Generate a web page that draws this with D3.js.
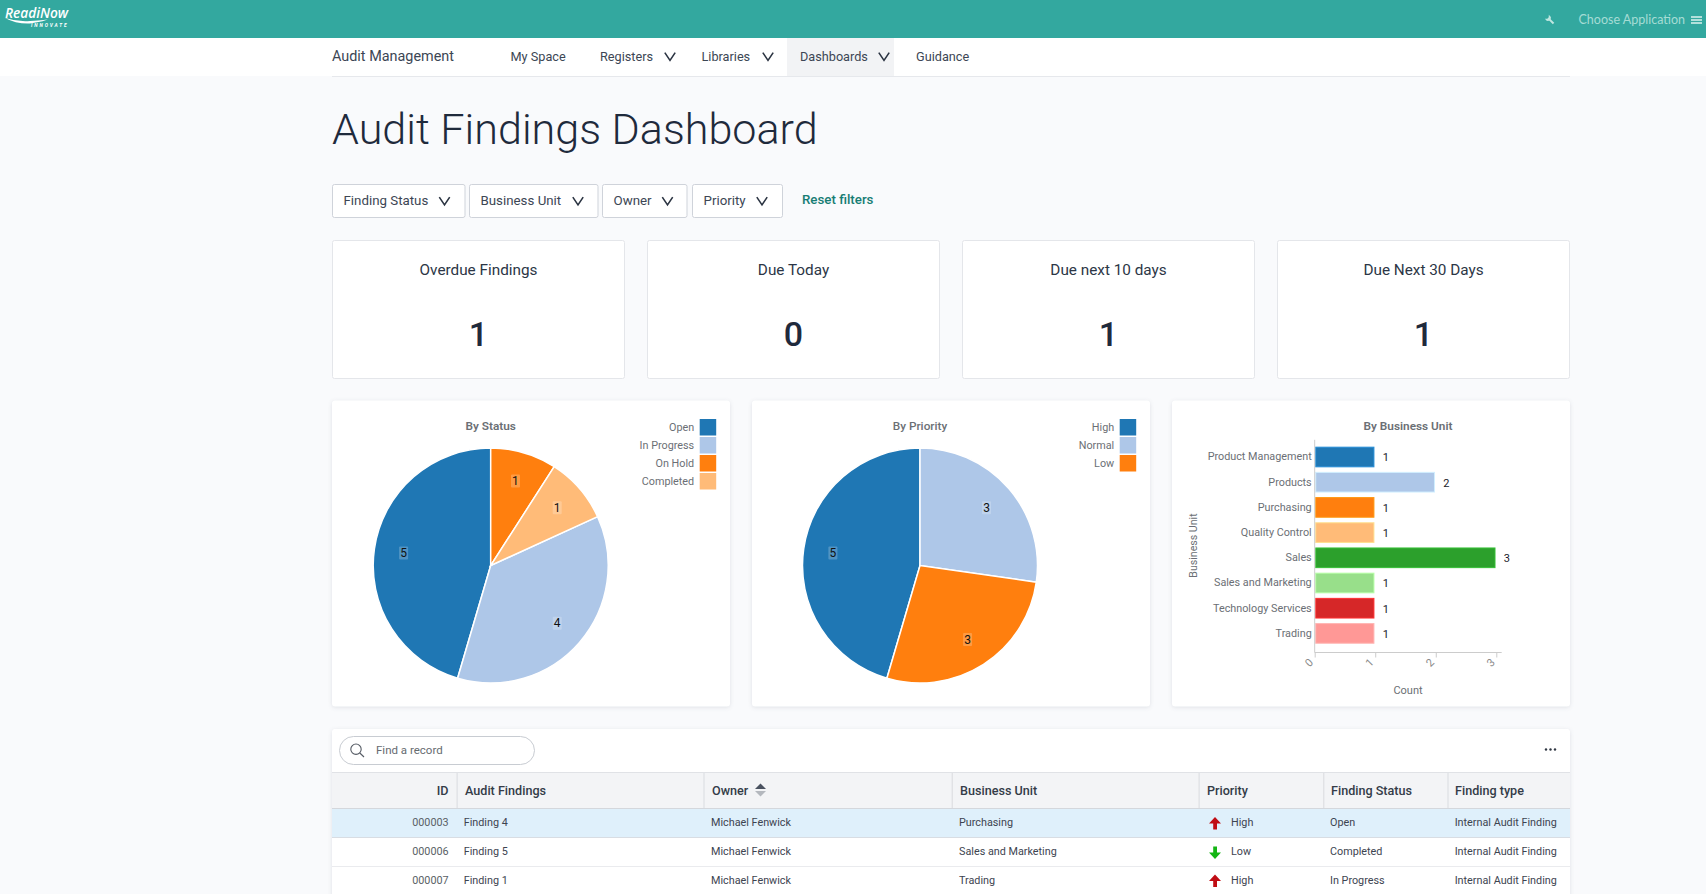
<!DOCTYPE html>
<html><head><meta charset="utf-8">
<script src="https://d3js.org/d3.v7.min.js"></script>
<style>
html,body{margin:0;padding:0;background:#f9fafc;overflow:hidden}
svg{display:block;font-family:Roboto,sans-serif}
</style></head><body><svg id="c" width="1706" height="894"></svg>
<script>
// ---- data ----
const statusCategories = ["Open","In Progress","On Hold","Completed"];
const statusValues = [5,4,1,1];
const priorityCategories = ["High","Normal","Low"];
const priorityValues = [5,3,3];
const unitCategories = ["Product Management","Products","Purchasing","Quality Control","Sales","Sales and Marketing","Technology Services","Trading"];
const unitValues = [1,2,1,1,3,1,1,1];
const countTicks = [0,1,2,3];
const palette = ["#1f77b4","#aec7e8","#ff7f0e","#ffbb78","#2ca02c","#98df8a","#d62728","#ff9896"];
const navItems = ["My Space","Registers","Libraries","Dashboards","Guidance"];
const filterNames = ["Finding Status","Business Unit","Owner","Priority"];
const cardTitles = ["Overdue Findings","Due Today","Due next 10 days","Due Next 30 Days"];
const cardValues = [1,0,1,1];
const tableHeaders = ["ID","Audit Findings","Owner","Business Unit","Priority","Finding Status","Finding type"];
const tableIds = ["000003","000006","000007"];
const tableFindings = ["Finding 4","Finding 5","Finding 1"];
const tableOwners = ["Michael Fenwick","Michael Fenwick","Michael Fenwick"];
const tableUnits = ["Purchasing","Sales and Marketing","Trading"];
const tablePriorities = ["High","Low","High"];
const tableStatuses = ["Open","Completed","In Progress"];
const tableTypes = ["Internal Audit Finding","Internal Audit Finding","Internal Audit Finding"];

// ---- helpers ----
const svg = d3.select("#c");
const ink="#1f2a3c", grey="#6b6f75";
function text(g,x,y,s,o={}){
  return g.append("text").attr("x",x).attr("y",y).attr("dy","0.35em").text(s)
    .attr("font-size",o.size||12).attr("fill",o.fill||ink)
    .attr("font-weight",o.weight||400).attr("text-anchor",o.anchor||"start")
    .attr("font-family",o.family||null).attr("font-style",o.style||null);
}
function chevron(g,cx,cy,w=5.2,h=5,color="#2b3442"){
  g.append("path").attr("d",`M${cx-w},${cy-h/1.3}L${cx},${cy+h/1.3}L${cx+w},${cy-h/1.3}`)
   .attr("fill","none").attr("stroke",color).attr("stroke-width",1.6);
}
function panel(x,y,w,h){
  return svg.append("rect").attr("x",x).attr("y",y).attr("width",w).attr("height",h).attr("rx",3)
    .attr("fill","#fff").style("filter","drop-shadow(0 1px 2px rgba(40,50,70,.12))");
}

// ---- top bar ----
svg.append("rect").attr("width",1706).attr("height",38).attr("fill","#33a89f");
const logo = svg.append("g");
text(logo,5,12.8,"ReadiNow",{size:13.7,fill:"#fff",weight:600,style:"italic",family:"'Open Sans',sans-serif"});
logo.append("path").attr("d","M5,18Q18,22 30,21Q48,20 48,19Q46,21 30,23.5Q16,24 5,18Z").attr("fill","#fff");
text(logo,31,25.7,"INNOVATE",{size:4.8,fill:"#fff",weight:700,style:"italic"}).attr("letter-spacing","1.9");
const wrench = svg.append("g").attr("transform","translate(1550,20) rotate(-45)");
wrench.append("rect").attr("x",-1).attr("y",-2).attr("width",2).attr("height",7).attr("fill","#bfe6e0");
wrench.append("path").attr("d","M-2.8,-4.5L-1,-2.8L1,-2.8L2.8,-4.5L2.8,-1.5L1,0L-1,0L-2.8,-1.5Z").attr("fill","#bfe6e0");
text(svg,1578.5,20,"Choose Application",{size:12.5,fill:"#a5dcd5",family:"Lato,sans-serif"});
svg.append("g").selectAll("rect").data([17,20,23]).join("rect").attr("x",1691).attr("y",d=>d-.9)
  .attr("width",11).attr("height",1.8).attr("fill","#bfe6e0");

// ---- nav ----
svg.append("rect").attr("y",38).attr("width",1706).attr("height",38).attr("fill","#fff");
svg.append("rect").attr("x",332).attr("y",76).attr("width",1238).attr("height",1).attr("fill","#e6e8ec");
svg.append("rect").attr("x",787).attr("y",38).attr("width",107).attr("height",38).attr("fill","#f2f3f5");
text(svg,332,56,"Audit Management",{size:14.4,fill:"#3c4654",weight:400});
const navX=[510.5,600,701.5,800,916], navChevron=[null,670,768,884,null];
navItems.forEach((n,i)=>{
  text(svg,navX[i],56.5,n,{size:12.7,fill:"#3c4654",weight:400});
  if(navChevron[i]) chevron(svg,navChevron[i],56.5);
});

// ---- title and filters ----
text(svg,332,129,"Audit Findings Dashboard",{size:43.1,weight:300,fill:"#1f2a3c"});
const fx=[332,469,602,692], fw=[132.5,128.5,84.5,90], fchev=[444.5,578,667.5,762];
filterNames.forEach((n,i)=>{
  svg.append("rect").attr("x",fx[i]+.5).attr("y",184.5).attr("width",fw[i]).attr("height",33).attr("rx",2)
    .attr("fill","#fff").attr("stroke","#cfd3da");
  text(svg,fx[i]+11.5,200.5,n,{size:13.3,fill:"#3c4654"});
  chevron(svg,fchev[i],201);
});
text(svg,802,199.5,"Reset filters",{size:13.3,fill:"#177d74",weight:500});

// ---- cards ----
const cardX=[332.5,647.5,962.5,1277.5];
cardTitles.forEach((t,i)=>{
  svg.append("rect").attr("x",cardX[i]).attr("y",240.5).attr("width",292).attr("height",138).attr("rx",2)
    .attr("fill","#fff").attr("stroke","#e4e6ea");
  text(svg,cardX[i]+146,270,t,{size:15.3,anchor:"middle",fill:"#2c3646"});
  text(svg,cardX[i]+146,334,cardValues[i],{size:34,anchor:"middle",weight:500,fill:"#1f2a3c"});
});

// ---- pies ----
function pieChart(px,title,cats,vals,cx,bold){
  panel(px,400.5,398,306);
  const g = svg.append("g");
  text(g,cx,425.5,title,{size:11.8,anchor:"middle",fill:grey,weight:bold?600:500});
  const scale = d3.scaleOrdinal(cats,palette);
  const R=117.5;
  const data = cats.map((c,i)=>({c,v:vals[i]}));
  const arcs = d3.pie().value(d=>d.v).sort((a,b)=>d3.ascending(a.v,b.v))(data);
  const arc = d3.arc().innerRadius(0).outerRadius(R);
  const lab = d3.arc().innerRadius(88).outerRadius(88);
  const p = g.append("g").attr("transform",`translate(${cx},565.5)`);
  p.selectAll("path").data(arcs).join("path").attr("d",arc)
    .attr("fill",d=>scale(d.data.c)).attr("stroke","#fff").attr("stroke-width",1.5);
  arcs.forEach(d=>{
    const [x,y]=lab.centroid(d);
    p.append("rect").attr("x",x-4.5).attr("y",y-6.5).attr("width",9).attr("height",13).attr("rx",1)
      .attr("fill","rgba(255,255,255,.22)");
    text(p,x,y,d.data.v,{size:12,anchor:"middle",fill:"#111"});
  });
  const leg = d3.scaleBand().domain(cats).range([418.5,418.5+18*cats.length]);
  const swatchX = px+367.7;
  cats.forEach(c=>{
    g.append("rect").attr("x",swatchX).attr("y",leg(c)+.5).attr("width",16.5).attr("height",16.5).attr("fill",scale(c));
    text(g,swatchX-5.5,leg(c)+9,c,{size:10.8,anchor:"end",fill:grey});
  });
}
pieChart(332,"By Status",statusCategories,statusValues,490.7,true);
pieChart(752,"By Priority",priorityCategories,priorityValues,920,false);

// ---- bar chart ----
panel(1172,400.5,398,306);
const bg = svg.append("g");
text(bg,1408,425.5,"By Business Unit",{size:11.8,anchor:"middle",fill:grey,weight:600});
const x = d3.scaleLinear().domain([0,3]).range([1314.7,1496.3]);
const y = d3.scaleBand().domain(unitCategories).range([444.4,646]).paddingInner(.22).paddingOuter(.11);
const barColor = d3.scaleOrdinal(unitCategories,palette);
bg.selectAll("rect.bar").data(unitCategories).join("rect").attr("class","bar")
  .attr("x",x(0)+1).attr("y",d=>y(d)).attr("height",y.bandwidth())
  .attr("width",(d,i)=>x(unitValues[i])-x(0)-2.3)
  .attr("fill",d=>barColor(d)).attr("stroke",d=>d3.color(barColor(d)).brighter(.5)).attr("stroke-width",1);
unitCategories.forEach((c,i)=>{
  text(bg,x(unitValues[i])+7.5,y(c)+y.bandwidth()/2+.5,unitValues[i],{size:11,fill:"#1a1a2a"});
});
const yAxis = bg.append("g").attr("transform","translate(1314.7,0)")
  .call(d3.axisLeft(y).tickSize(0).tickPadding(3));
yAxis.select(".domain").remove();
yAxis.selectAll("text").attr("font-size",10.8).attr("font-family","Roboto,sans-serif").attr("fill",grey);
bg.append("path").attr("d","M1314.7,439.8V652.5H1501.7").attr("fill","none").attr("stroke","#ccc");
const xAxis = bg.append("g").attr("transform","translate(0,652.5)")
  .call(d3.axisBottom(x).tickValues(countTicks).tickFormat(d3.format("d")).tickSize(5));
xAxis.select(".domain").remove();
xAxis.selectAll("line").attr("stroke","#ccc");
xAxis.selectAll("text").attr("font-size",11).attr("font-family","Roboto,sans-serif").attr("fill","#8a8a8a")
  .attr("text-anchor","end").attr("x",0).attr("y",0).attr("dy","0.35em").attr("transform","translate(-4,8) rotate(-45)");
text(bg,1408,690,"Count",{size:11,anchor:"middle",fill:grey});
text(bg,0,0,"Business Unit",{size:10.6,anchor:"middle",fill:grey}).attr("transform","translate(1193,545.5) rotate(-90)");

// ---- table ----
panel(332,729,1238,180);
svg.append("rect").attr("x",339.5).attr("y",736.5).attr("width",195).attr("height",28).attr("rx",14)
  .attr("fill","#fff").attr("stroke","#c8ccd2");
svg.append("circle").attr("cx",356).attr("cy",749.2).attr("r",5.2).attr("fill","none").attr("stroke","#555b64").attr("stroke-width",1.1);
svg.append("path").attr("d","M359.8,753L364,757").attr("stroke","#555b64").attr("stroke-width",1.1);
text(svg,376,750,"Find a record",{size:11.5,fill:"#666b70"});
svg.append("g").selectAll("circle").data([-4.5,0,4.5]).join("circle").attr("cx",d=>1550.5+d).attr("cy",749.5).attr("r",1.2).attr("fill","#2f3642");
svg.append("rect").attr("x",332).attr("y",772.5).attr("width",1238).attr("height",36).attr("fill","#f3f4f6");
svg.append("rect").attr("x",332).attr("y",772).attr("width",1238).attr("height",1).attr("fill","#e0e2e6");
svg.append("rect").attr("x",332).attr("y",808).attr("width",1238).attr("height",1).attr("fill","#d4d7dc");
[456.6,703.5,951.7,1198.6,1323.3,1447.5].forEach(d=>svg.append("rect").attr("x",d).attr("y",773).attr("width",1).attr("height",35).attr("fill","#d9dbdf"));
const headX=[448.6,465,712,960,1207,1331,1455];
tableHeaders.forEach((h,i)=>text(svg,headX[i],790.7,h,{size:12.6,weight:500,fill:"#343c48",anchor:i==0?"end":"start"}));
svg.append("path").attr("d","M755,789L760.5,783.5L766,789Z").attr("fill","#4a5260");
svg.append("path").attr("d","M755,791L760.5,796.5L766,791Z").attr("fill","#b4b8be");
const rowY=[809,838,866.5], rowH=[28.7,28.5,28.5];
const cellX=[448.6,463.7,711,959,1231,1330,1454.7];
tableIds.forEach((id,r)=>{
  svg.append("rect").attr("x",332).attr("y",rowY[r]).attr("width",1238).attr("height",rowH[r]).attr("fill",r==0?"#dff0fb":"#fff");
  svg.append("rect").attr("x",332).attr("y",rowY[r]+rowH[r]-.5).attr("width",1238).attr("height",1).attr("fill","#d4d7dc");
  const cy=rowY[r]+13.5;
  const row=[id,tableFindings[r],tableOwners[r],tableUnits[r],tablePriorities[r],tableStatuses[r],tableTypes[r]];
  row.forEach((v,i)=>text(svg,cellX[i],cy,v,{size:10.8,fill:i==0?"#5a5f66":"#3d4450",anchor:i==0?"end":"start"}));
  const up=tablePriorities[r]=="High";
  const ay=cy+1;
  svg.append("path").attr("d",up
    ?`M1215,${ay-6.5}L1221,${ay}L1217,${ay}V${ay+6}H1213.2V${ay}H1209Z`
    :`M1215,${ay+6.5}L1221,${ay}L1217,${ay}V${ay-6}H1213.2V${ay}H1209Z`)
    .attr("fill",up?"#c00d14":"#14b514");
});
</script></body></html>
